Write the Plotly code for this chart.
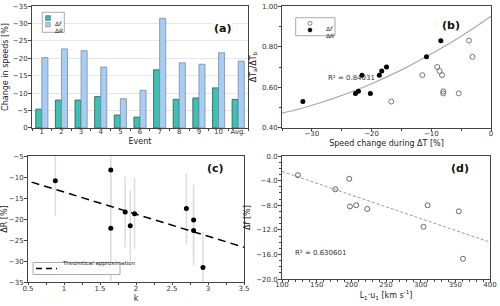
import plotly.graph_objects as go

# ---------- data ----------
events = ["1", "2", "3", "4", "5", "6", "7", "8", "9", "10", "Avg."]
df_a = [-5.4, -8.0, -8.0, -9.0, -3.7, -3.1, -16.7, -8.2, -8.6, -11.5, -8.2]
dR_a = [-20.2, -22.7, -22.2, -17.5, -8.4, -10.8, -31.5, -18.7, -18.3, -21.6, -19.2]

b_f_x = [-16.7, -11.5, -9.0, -8.6, -8.2, -8.0, -8.0, -5.4, -3.7, -3.1]
b_f_y = [0.53, 0.66, 0.70, 0.68, 0.66, 0.58, 0.57, 0.57, 0.83, 0.75]
b_R_x = [-31.5, -22.7, -22.2, -21.6, -20.2, -18.7, -18.3, -17.5, -10.8, -8.4]
b_R_y = [0.53, 0.57, 0.58, 0.66, 0.57, 0.66, 0.68, 0.70, 0.75, 0.83]
b_fit_coef = [0.95, 0.02057, 0.000198]   # quadratic fit c0 + c1 x + c2 x^2
b_fit_x = [-35, -32, -29, -26, -23, -20, -17, -14, -11, -8, -5, -2, 0]

c_k = [0.88, 1.65, 1.65, 1.85, 1.92, 1.98, 2.70, 2.80, 2.80, 2.93]
c_dR = [-10.9, -8.3, -22.2, -18.3, -21.6, -18.7, -17.5, -20.2, -22.7, -31.5]
c_err = [8.4, 8.4, 12.5, 8.4, 8.4, 8.4, 8.4, 8.4, 8.4, 8.4]
c_line_x = [0.55, 3.5]
c_line_y = [-11.2, -26.7]

d_x = [123, 177, 197, 198, 207, 223, 304, 310, 355, 361]
d_y = [-3.1, -5.4, -3.7, -8.2, -8.0, -8.6, -11.5, -8.0, -9.0, -16.7]
d_line_x = [100, 400]
d_line_y = [-2.5, -14.0]

# ---------- figure ----------
W, H = 500, 306
FONT = "DejaVu Sans"
AX = "#444444"
TICKF = dict(family=FONT, size=7, color="#333333")
TITF = dict(family=FONT, size=8, color="#222222")
COL_F = "#35c4b5"
COL_R = "#a4cdf8"


def px(x):
    return x / W


def py(y):
    return 1 - y / H


fig = go.Figure()

# (a)
fig.add_trace(go.Bar(x=events, y=df_a, name="Δf", marker=dict(color=COL_F, line=dict(color="#4a4a4a", width=0.8)),
                     xaxis="x", yaxis="y", showlegend=False))
fig.add_trace(go.Bar(x=events, y=dR_a, name="ΔR", marker=dict(color=COL_R, line=dict(color="#8a8a8a", width=0.8)),
                     xaxis="x", yaxis="y", showlegend=False))

# (b)
fit_y = [b_fit_coef[0] + b_fit_coef[1] * x + b_fit_coef[2] * x * x for x in b_fit_x]
fig.add_trace(go.Scatter(x=b_fit_x, y=fit_y, mode="lines", line=dict(color="#aaaaaa", width=1.2, shape="spline"),
                         showlegend=False, xaxis="x2", yaxis="y2"))
fig.add_trace(go.Scatter(x=b_f_x, y=b_f_y, mode="markers", name="Δf", showlegend=False,
                         marker=dict(symbol="circle-open", size=5, color="#666666", line=dict(width=0.9)),
                         xaxis="x2", yaxis="y2"))
fig.add_trace(go.Scatter(x=b_R_x, y=b_R_y, mode="markers", name="ΔR", showlegend=False,
                         marker=dict(symbol="circle", size=5, color="#000000"),
                         xaxis="x2", yaxis="y2"))

# (c)
fig.add_trace(go.Scatter(x=c_k, y=c_dR, mode="markers", showlegend=False,
                         marker=dict(symbol="circle", size=5, color="#000000"),
                         error_y=dict(type="data", array=c_err, visible=True, color="#dddddd", thickness=1.5, width=0),
                         xaxis="x3", yaxis="y3"))
fig.add_trace(go.Scatter(x=c_line_x, y=c_line_y, mode="lines", name="Theoretical approximation", showlegend=False,
                         line=dict(color="#000000", width=1.5, dash="8px,5px"),
                         xaxis="x3", yaxis="y3"))

# (d)
fig.add_trace(go.Scatter(x=d_line_x, y=d_line_y, mode="lines", showlegend=False,
                         line=dict(color="#999999", width=1, dash="3px,2px"), xaxis="x4", yaxis="y4"))
fig.add_trace(go.Scatter(x=d_x, y=d_y, mode="markers", showlegend=False,
                         marker=dict(symbol="circle-open", size=5, color="#555555", line=dict(width=0.9)),
                         xaxis="x4", yaxis="y4"))


def axstyle(**kw):
    d = dict(showline=True, linecolor=AX, linewidth=1, mirror=True, ticks="outside", ticklen=3,
             tickcolor=AX, tickfont=TICKF, showgrid=False, zeroline=False, automargin=False)
    d.update(kw)
    return d


def xstyle(**kw):
    return axstyle(ticklen=2, ticklabelstandoff=-3, **kw)


def ystyle(**kw):
    return axstyle(ticklabelstandoff=-1, **kw)


MINOR = dict(ticks="outside", ticklen=2, tickcolor=AX)

# manual legends (boxes, swatches, labels)
shapes = [
    # legend (a)
    dict(type="rect", xref="paper", yref="paper", x0=px(42.3), x1=px(64.3), y0=py(32.3), y1=py(12.3),
         fillcolor="white", line=dict(color="#aaaaaa", width=1)),
    dict(type="rect", xref="paper", yref="paper", x0=px(45.7), x1=px(50.3), y0=py(20.3), y1=py(15.7),
         fillcolor=COL_F, line=dict(color="#4a4a4a", width=0.6)),
    dict(type="rect", xref="paper", yref="paper", x0=px(45.7), x1=px(50.3), y0=py(27.0), y1=py(22.4),
         fillcolor=COL_R, line=dict(color="#8a8a8a", width=0.6)),
    # legend (b)
    dict(type="rect", xref="paper", yref="paper", x0=px(295.7), x1=px(335), y0=py(35.7), y1=py(17.7),
         fillcolor="white", line=dict(color="#aaaaaa", width=1)),
    dict(type="circle", xref="paper", yref="paper", x0=px(308), x1=px(312), y0=py(25.3), y1=py(21.3),
         fillcolor="white", line=dict(color="#666666", width=0.8)),
    dict(type="circle", xref="paper", yref="paper", x0=px(308), x1=px(312), y0=py(32), y1=py(28),
         fillcolor="black", line=dict(color="black", width=0.5)),
    # legend (c)
    dict(type="rect", xref="paper", yref="paper", x0=px(33), x1=px(120), y0=py(274.5), y1=py(262.5),
         fillcolor="white", line=dict(color="#aaaaaa", width=1)),
    dict(type="line", xref="paper", yref="paper", x0=px(36), x1=px(57), y0=py(268.5), y1=py(268.5),
         line=dict(color="black", width=1.5, dash="6px,4px")),
]

LEGF = dict(family=FONT, size=6, color="#222222")

annotations = [
    dict(text="<b>(a)</b>", x=px(222), y=py(20), xref="paper", yref="paper", showarrow=False,
         bgcolor="white", font=dict(family=FONT, size=11, color="#111")),
    dict(text="<b>(b)</b>", x=px(462), y=py(17), xref="paper", yref="paper", showarrow=False,
         font=dict(family=FONT, size=11, color="#111")),
    dict(text="<b>(c)</b>", x=px(215), y=py(168), xref="paper", yref="paper", showarrow=False,
         font=dict(family=FONT, size=11, color="#111")),
    dict(text="<b>(d)</b>", x=px(471), y=py(168), xref="paper", yref="paper", showarrow=False,
         font=dict(family=FONT, size=11, color="#111")),
    dict(text="R² = 0.84031", x=-23.4, y=0.646, xref="x2", yref="y2", showarrow=False,
         font=dict(family=FONT, size=7, color="#333")),
    dict(text="R² = 0.630601", x=156, y=-15.8, xref="x4", yref="y4", showarrow=False,
         font=dict(family=FONT, size=7, color="#333")),
    # legend labels
    dict(text="Δ<i>f</i>", x=px(53), y=py(18), xref="paper", yref="paper", xanchor="left", showarrow=False, font=LEGF),
    dict(text="Δ<i>R</i>", x=px(53), y=py(24.7), xref="paper", yref="paper", xanchor="left", showarrow=False, font=LEGF),
    dict(text="Δ<i>f</i>", x=px(324), y=py(23.3), xref="paper", yref="paper", xanchor="left", showarrow=False, font=LEGF),
    dict(text="Δ<i>R</i>", x=px(324), y=py(30), xref="paper", yref="paper", xanchor="left", showarrow=False, font=LEGF),
    dict(text="Theoretical approximation", x=px(60), y=py(268.5), xref="paper", yref="paper", xanchor="left",
         showarrow=False, font=dict(family=FONT, size=5.5, color="#222222")),
]

fig.update_layout(
    width=W, height=H, margin=dict(l=0, r=0, t=0, b=0),
    paper_bgcolor="white", plot_bgcolor="white",
    barmode="group", bargap=0.38, bargroupgap=0,
    font=dict(family=FONT),
    showlegend=False,
    xaxis=xstyle(domain=[0.064, 0.496], anchor="y", type="category", tickson="boundaries", tickangle=0,
                 title=dict(text="Event", font=TITF, standoff=3)),
    yaxis=ystyle(domain=[0.582, 0.980], anchor="x", range=[0, -35], dtick=5, showgrid=True,
                 gridcolor="#e6e6e6", gridwidth=1,
                 title=dict(text="Change in speeds [%]", font=TITF, standoff=3)),
    xaxis2=xstyle(domain=[0.564, 0.982], anchor="y2", range=[-35, 0], tickvals=[-30, -20, -10, 0],
                  minor=dict(dtick=5, **MINOR),
                  title=dict(text="Speed change during ΔT [%]", font=TITF, standoff=3)),
    yaxis2=ystyle(domain=[0.582, 0.980], anchor="x2", range=[0.4, 1.0], dtick=0.2, tickformat=".2f",
                  minor=dict(dtick=0.1, **MINOR),
                  title=dict(text="ΔT<sub>a</sub>/ΔT<sub>b</sub>", font=TITF, standoff=4)),
    xaxis3=xstyle(domain=[0.056, 0.488], anchor="y3", range=[0.5, 3.5], dtick=0.5,
                  minor=dict(dtick=0.25, **MINOR),
                  title=dict(text="k", font=TITF, standoff=3)),
    yaxis3=ystyle(domain=[0.078, 0.490], anchor="x3", range=[-35, -5], dtick=5,
                  title=dict(text="ΔR [%]", font=TITF, standoff=3)),
    xaxis4=xstyle(domain=[0.564, 0.980], anchor="y4", range=[100, 400], dtick=50,
                  minor=dict(dtick=10, **MINOR),
                  title=dict(text="L<sub>1</sub>·u<sub>1</sub> [km s<sup>-1</sup>]", font=TITF, standoff=2)),
    yaxis4=ystyle(domain=[0.088, 0.490], anchor="x4", range=[-20, 0], dtick=4, tickformat=".1f",
                  minor=dict(dtick=1, **MINOR),
                  title=dict(text="Δf [%]", font=TITF, standoff=4)),
    shapes=shapes,
    annotations=annotations,
)

fig.write_html("out.html", config={"displayModeBar": False},
               post_script="document.body.style.margin='0px';")
